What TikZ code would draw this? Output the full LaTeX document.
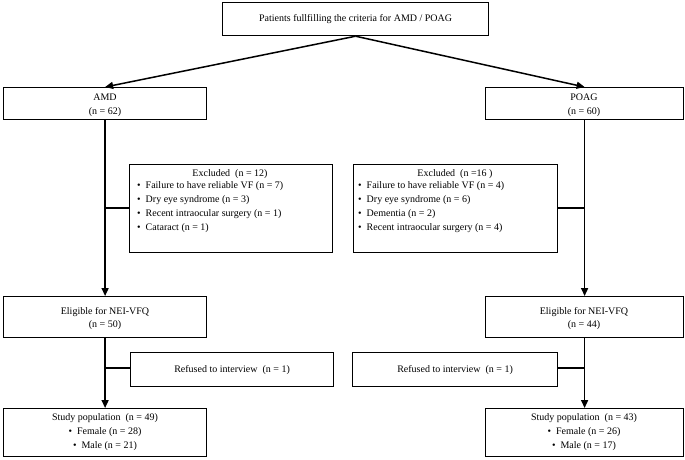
\documentclass[tikz,border=0pt]{standalone}
\usepackage{fontspec}
\setmainfont{Liberation Serif}
\usetikzlibrary{arrows.meta}
\begin{document}
\begin{tikzpicture}[x=1pt,y=-1pt,
 box/.style={draw,line width=1.2pt,rectangle,inner sep=0pt,anchor=north west},
 t/.style={font=\fontsize{10}{14}\selectfont,inner sep=0pt},
 ln/.style={line width=1.5pt},
 arr/.style={ln,-{Triangle[length=8pt,width=7pt]}}]
\useasboundingbox (0,0) rectangle (685,459);
% top
\node[box,minimum width=266pt,minimum height=33pt] (top) at (222,2) {};
\node[t] at (top.center) {Patients fullfilling the criteria for AMD / POAG};
% AMD / POAG
\node[box,minimum width=203pt,minimum height=32pt] (amd) at (3,87) {};
\node[t] at (105,97) {AMD};
\node[t] at (105,112) {(n = 62)};
\node[box,minimum width=198pt,minimum height=32pt] (poag) at (485,87) {};
\node[t] at (584,97) {POAG};
\node[t] at (584,112) {(n = 60)};
\draw[arr] (top.south) -- (amd.north);
\draw[arr] (top.south) -- (poag.north);
% excluded
\node[box,minimum width=203pt,minimum height=88pt] (exa) at (129,164) {};
\node[t] at (230,174) {Excluded\ \ (n = 12)};
\node[t,anchor=north west,align=left] at (137,181) {%
\textbullet\ \ Failure\ to have reliable\ VF (n = 7)\\
\textbullet\ \ Dry eye syndrome\ (n = 3)\\
\textbullet\ \ Recent intraocular\ surgery\ (n = 1)\\
\textbullet\ \ Cataract (n = 1)};
\node[box,minimum width=204pt,minimum height=88pt] (exp) at (353,164) {};
\node[t] at (455,174) {Excluded\ \ (n =16 )};
\node[t,anchor=north west,align=left] at (358,181) {%
\textbullet\ \ Failure\ to have reliable\ VF (n = 4)\\
\textbullet\ \ Dry eye syndrome\ (n = 6)\\
\textbullet\ \ Dementia\ (n = 2)\\
\textbullet\ \ Recent intraocular\ surgery\ (n = 4)};
% eligible
\node[box,minimum width=203pt,minimum height=41pt] (ela) at (3,296) {};
\node[t] at (105,312) {Eligible\ for NEI-VFQ};
\node[t] at (105,325) {(n = 50)};
\node[box,minimum width=198pt,minimum height=41pt] (elp) at (485,296) {};
\node[t] at (584,312) {Eligible\ for NEI-VFQ};
\node[t] at (584,325) {(n = 44)};
\coordinate (ja) at (105,208);
\coordinate (jp) at (584,208);
\draw[arr] (amd.south) -- (ela.north);
\draw[arr] (poag.south) -- (elp.north);
\draw[ln] (ja) -- (exa.west|-ja);
\draw[ln] (jp) -- (exp.east|-jp);
% refused
\node[box,minimum width=203pt,minimum height=34pt] (rfa) at (130,352) {};
\node[t] at (rfa.center) {Refused to interview\ \ (n = 1)};
\node[box,minimum width=205pt,minimum height=34pt] (rfp) at (352,352) {};
\node[t] at (rfp.center) {Refused to interview\ \ (n = 1)};
% study
\node[box,minimum width=203pt,minimum height=48pt] (sta) at (3,408) {};
\node[t] at (105,418) {Study population\ \ (n = 49)};
\node[t] at (105,432) {\textbullet\ \ Female\ (n = 28)};
\node[t] at (105,446) {\textbullet\ \ Male\ (n = 21)};
\node[box,minimum width=198pt,minimum height=48pt] (stp) at (485,408) {};
\node[t] at (584,418) {Study population\ \ (n = 43)};
\node[t] at (584,432) {\textbullet\ \ Female\ (n = 26)};
\node[t] at (584,446) {\textbullet\ \ Male\ (n = 17)};
\coordinate (ka) at (105,368);
\coordinate (kp) at (584,368);
\draw[arr] (ela.south) -- (sta.north);
\draw[arr] (elp.south) -- (stp.north);
\draw[ln] (ka) -- (rfa.west|-ka);
\draw[ln] (kp) -- (rfp.east|-kp);
\end{tikzpicture}
\end{document}
